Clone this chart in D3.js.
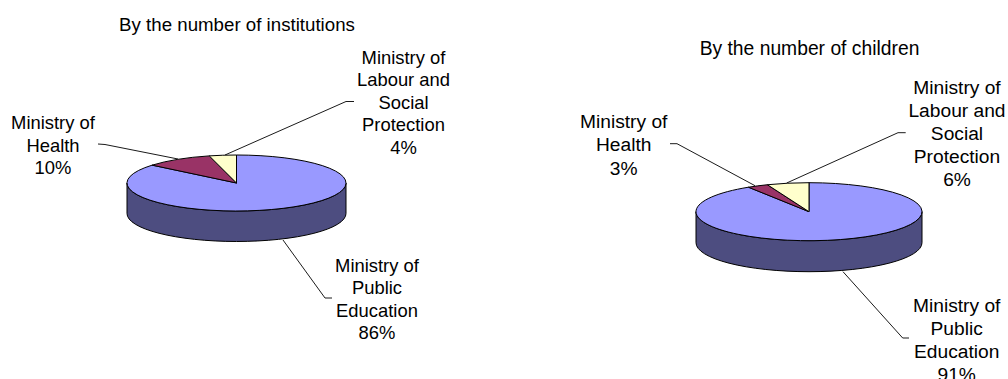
<!DOCTYPE html>
<html>
<head>
<meta charset="utf-8">
<script src="https://cdn.jsdelivr.net/npm/d3@7/dist/d3.min.js"></script>
<style>
html,body{margin:0;padding:0;background:#fff;overflow:hidden}
svg{display:block}
text{font-family:"Liberation Sans",Arial,sans-serif;fill:#000;text-anchor:middle;dominant-baseline:central}
</style>
</head>
<body>
<svg id="chart" width="1008" height="379"></svg>
<script>
// Shares by founding ministry, clockwise from twelve o'clock
const ministries = ["Ministry of Public Education", "Ministry of Health", "Ministry of Labour and Social Protection"];
const institutionShares = [86, 10, 4];
const childrenShares = [91, 3, 6];
const sliceColors = ["#9999FF", "#993366", "#FFFFCC"];
const wallColors = ["#4D4D80", "#4D1A33", "#808066"];
const labelLines = [
  ["Ministry of", "Public", "Education"],
  ["Ministry of", "Health"],
  ["Ministry of", "Labour and", "Social", "Protection"]
];

// Placement of the two pies, their captions and leader lines
const panels = [
  {
    title: "By the number of institutions", titleX: 237, titleY: 24.5, titleSize: 18.7,
    values: institutionShares,
    cx: 236.5, cy: 183, rx: 109.5, ry: 28, depth: 30.5,
    fontSize: 18.4, lineGap: 22.5,
    labels: [{x: 377, y: 265}, {x: 53, y: 122.5}, {x: 403.5, y: 57}],
    leaders: [
      [[332, 298], [325, 298], [283, 240]],
      [[98, 144], [105, 144.5], [178, 159]],
      [[354, 101.5], [346, 101.5], [225, 155]]
    ]
  },
  {
    title: "By the number of children", titleX: 809.5, titleY: 48, titleSize: 19.3,
    values: childrenShares,
    cx: 809, cy: 211.7, rx: 113, ry: 29, depth: 31,
    fontSize: 19.2, lineGap: 23.2,
    labels: [{x: 956.7, y: 305}, {x: 623.7, y: 121.7}, {x: 957, y: 87}],
    leaders: [
      [[909, 338], [902.7, 338], [843, 271.7]],
      [[670, 143.7], [677, 143.7], [755, 185.7]],
      [[905.7, 132.7], [898, 132.7], [786.7, 183]]
    ]
  }
];

const svg = d3.select("#chart");
const pie = d3.pie().sort(null).startAngle(0).endAngle(2 * Math.PI);
const leaderLine = d3.line();

function ellipsePoint(p, angle, dy) {
  return [p.cx + p.rx * Math.sin(angle), p.cy - p.ry * Math.cos(angle) + dy];
}

// Side wall of a slice: only the part on the near half of the rim is visible
function wallPath(p, arc) {
  const a0 = Math.max(arc.startAngle, Math.PI / 2);
  const a1 = Math.min(arc.endAngle, 3 * Math.PI / 2);
  if (a1 <= a0) return null;
  const [x0, y0] = ellipsePoint(p, a0, 0);
  const [x1, y1] = ellipsePoint(p, a1, 0);
  const [x2, y2] = ellipsePoint(p, a1, p.depth);
  const [x3, y3] = ellipsePoint(p, a0, p.depth);
  return `M${x0},${y0}A${p.rx},${p.ry} 0 0 1 ${x1},${y1}L${x2},${y2}A${p.rx},${p.ry} 0 0 0 ${x3},${y3}Z`;
}

panels.forEach(p => {
  const g = svg.append("g");
  const arcs = pie(p.values);

  g.selectAll("path.leader").data(p.leaders).join("path")
    .attr("class", "leader")
    .attr("d", d => leaderLine(d))
    .attr("fill", "none").attr("stroke", "#000").attr("stroke-width", 0.9);

  g.selectAll("path.wall").data(arcs).join("path")
    .attr("class", "wall")
    .attr("d", d => wallPath(p, d))
    .attr("fill", (d, i) => wallColors[i])
    .attr("stroke", "#000").attr("stroke-width", 1);

  // Top face: a circular arc squashed into the tilted ellipse
  const top = d3.arc().innerRadius(0).outerRadius(p.rx);
  g.append("g")
    .attr("transform", `translate(${p.cx},${p.cy}) scale(1,${p.ry / p.rx})`)
    .selectAll("path").data(arcs).join("path")
    .attr("d", top)
    .attr("fill", (d, i) => sliceColors[i])
    .attr("stroke", "#000").attr("stroke-width", 1)
    .attr("vector-effect", "non-scaling-stroke");

  g.append("text")
    .attr("x", p.titleX).attr("y", p.titleY)
    .attr("font-size", p.titleSize)
    .text(p.title);

  ministries.forEach((name, i) => {
    const lines = labelLines[i].concat(`${p.values[i]}%`);
    g.append("g").selectAll("text").data(lines).join("text")
      .attr("x", p.labels[i].x)
      .attr("y", (d, k) => p.labels[i].y + k * p.lineGap)
      .attr("font-size", p.fontSize)
      .text(d => d);
  });
});
</script>
</body>
</html>
